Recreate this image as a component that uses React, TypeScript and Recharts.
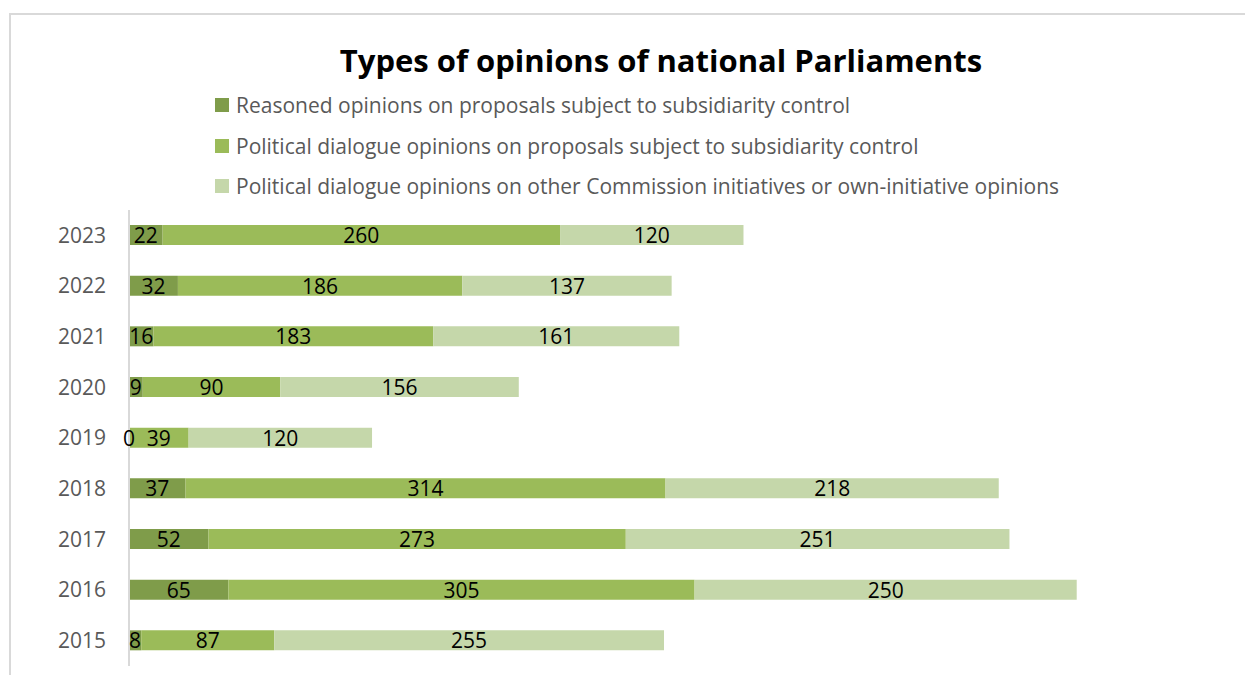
import { BarChart, Bar, XAxis, YAxis, LabelList } from "recharts";

const years = ["2023", "2022", "2021", "2020", "2019", "2018", "2017", "2016", "2015"];
const reasoned = [22, 32, 16, 9, 0, 37, 52, 65, 8];
const dialogue = [260, 186, 183, 90, 39, 314, 273, 305, 87];
const other = [120, 137, 161, 156, 120, 218, 251, 250, 255];

const seriesNames = [
  "Reasoned opinions on proposals subject to subsidiarity control",
  "Political dialogue opinions on proposals subject to subsidiarity control",
  "Political dialogue opinions on other Commission initiatives or own-initiative opinions",
];
const seriesColors = ["#7f9c4a", "#9bbb59", "#c5d7aa"];

const font = "'Open Sans', sans-serif";

// centred value label, drawn for zero-width segments too
const ValueLabel = (props: any) => {
  const { x, y, width, height, value } = props;
  if (value === undefined || value === null) return null;
  return (
    <text
      x={Number(x) + Number(width) / 2}
      y={Number(y) + Number(height) / 2}
      textAnchor="middle"
      dominantBaseline="central"
      fill="#000"
      fontSize={21}
      fontFamily={font}
    >
      {value}
    </text>
  );
};

export default function App() {
  const data = years.map((year, i) => ({
    year,
    reasoned: reasoned[i],
    dialogue: dialogue[i],
    other: other[i],
  }));
  const keys = ["reasoned", "dialogue", "other"];

  return (
    <div
      style={{
        position: "absolute",
        left: 0,
        top: 0,
        width: 1245,
        height: 675,
        overflow: "hidden",
        background: "#fff",
        fontFamily: font,
      }}
    >
      {/* chart frame */}
      <div
        style={{
          position: "absolute",
          left: 9,
          top: 13,
          width: 1260,
          height: 700,
          border: "2px solid #d9d9d9",
          boxSizing: "border-box",
        }}
      />
      <div
        style={{
          position: "absolute",
          left: 0,
          width: 1322,
          top: 38,
          textAlign: "center",
          fontSize: 31,
          fontWeight: 700,
          color: "#000",
          lineHeight: "44px",
        }}
      >
        Types of opinions of national Parliaments
      </div>
      <div style={{ position: "absolute", left: 215, top: 85 }}>
        {seriesNames.map((name, i) => (
          <div
            key={name}
            style={{ display: "flex", alignItems: "center", height: 40.5 }}
          >
            <div
              style={{
                width: 14,
                height: 14,
                background: seriesColors[i],
                marginRight: 7,
              }}
            />
            <span style={{ fontSize: 21, color: "#595959" }}>{name}</span>
          </div>
        ))}
      </div>
      <div style={{ position: "absolute", left: 0, top: 0 }}>
        <BarChart
          width={1245}
          height={675}
          data={data}
          layout="vertical"
          margin={{ top: 210, right: 46, left: 0, bottom: 9 }}
        >
          <XAxis type="number" domain={[0, 700]} hide />
          <YAxis
            type="category"
            dataKey="year"
            width={129}
            axisLine={{ stroke: "#d9d9d9", strokeWidth: 2 }}
            tickLine={false}
            tickSize={0}
            tickMargin={23}
            tick={{ fill: "#595959", fontSize: 21, fontFamily: font }}
          />
          {keys.map((k, i) => (
            <Bar
              key={k}
              dataKey={k}
              stackId="a"
              fill={seriesColors[i]}
              barSize={20}
              minPointSize={(v: number) => (v === 0 ? 0.01 : 0)}
              isAnimationActive={false}
            >
              <LabelList dataKey={k} content={<ValueLabel />} />
            </Bar>
          ))}
        </BarChart>
      </div>
    </div>
  );
}
